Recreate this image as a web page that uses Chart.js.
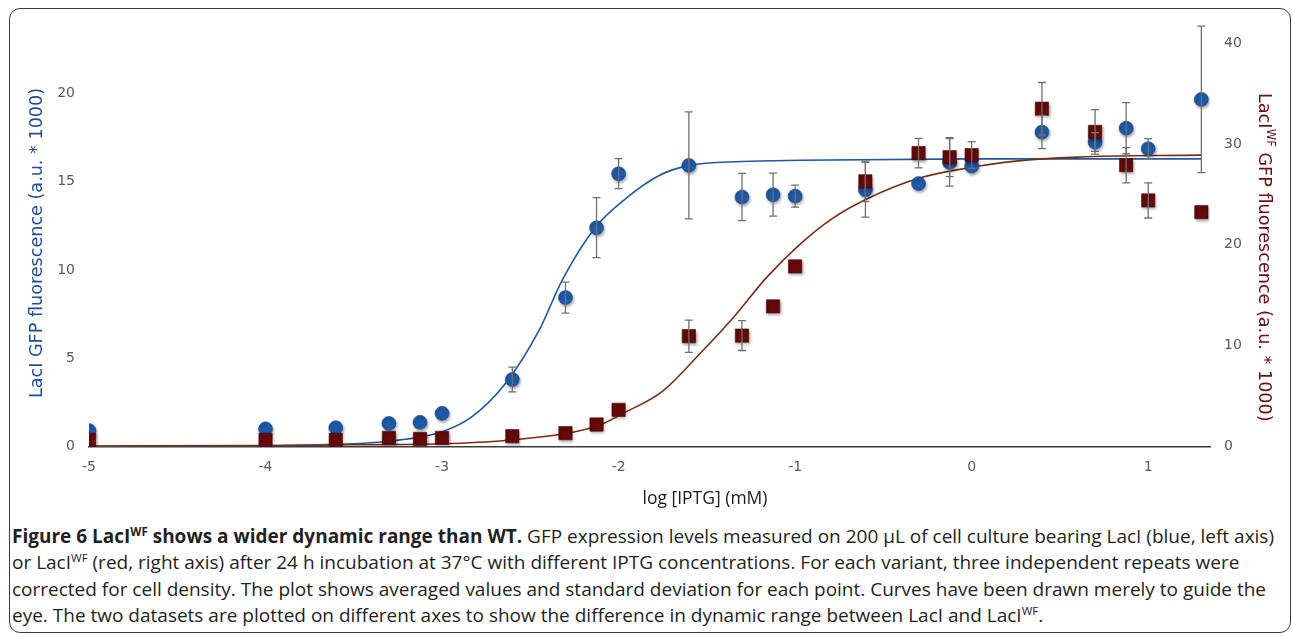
<!DOCTYPE html>
<html>
<head>
<meta charset="utf-8">
<script src="https://cdn.jsdelivr.net/npm/chart.js@4.4.1/dist/chart.umd.min.js"></script>
<style>
  html, body { margin: 0; padding: 0; background: #fff; }
  body { width: 1292px; height: 636px; position: relative; overflow: hidden; }
  .frame {
    position: absolute; left: 9px; top: 8px; width: 1282px; height: 625px;
    border: 1.5px solid #3a3a3a; border-radius: 11px; box-sizing: border-box;
  }
  #chartBox { position: absolute; left: 0; top: 0; width: 1292px; height: 510px; }
  .xtitle {
    position: absolute; left: 555px; top: 485px; width: 300px; text-align: center;
    font-family: "Open Sans", sans-serif; font-size: 17.5px; color: #1a1a1a;
  }
  .caption {
    position: absolute; left: 12px; top: 523px;
    font-family: "Open Sans", sans-serif; font-size: 19px; line-height: 26.4px;
    color: #231f20; white-space: nowrap;
  }
  .caption sup { font-size: 11.5px; vertical-align: 7px; line-height: 0; }
</style>
</head>
<body>
<div class="frame"></div>
<div id="chartBox"><canvas id="myChart" width="1292" height="510"></canvas></div>
<div class="xtitle">log [IPTG] (mM)</div>
<div class="caption">
  <div><b>Figure 6 LacI<sup>WF</sup> shows a wider dynamic range than WT.</b> GFP expression levels measured on 200 µL of cell culture bearing LacI (blue, left axis)</div>
  <div>or LacI<sup>WF</sup> (red, right axis) after 24 h incubation at 37°C with different IPTG concentrations. For each variant, three independent repeats were</div>
  <div>corrected for cell density. The plot shows averaged values and standard deviation for each point. Curves have been drawn merely to guide the</div>
  <div>eye. The two datasets are plotted on different axes to show the difference in dynamic range between LacI and LacI<sup>WF</sup>.</div>
</div>
<script>
// IPTG concentrations (mM), plotted as log10
const iptgMM = [0.00001, 0.0001, 0.00025, 0.0005, 0.00075, 0.001, 0.0025, 0.005, 0.0075, 0.01,
  0.025, 0.05, 0.075, 0.1, 0.25, 0.5, 0.75, 1, 2.5, 5, 7.5, 10, 20];

// LacI (left axis), mean and SD
const laciMean = [0.9, 1.0, 1.06, 1.31, 1.37, 1.88, 3.8, 8.44, 12.4, 15.46,
  15.93, 14.14, 14.27, 14.19, 14.55, 14.9, 16.1, 15.89, 17.82, 17.25, 18.04, 16.88, 19.67];
const laciSD = [0, 0, 0, 0, 0, 0, 0.7, 0.88, 1.7, 0.85,
  3.03, 1.34, 1.22, 0.62, 1.55, 0, 1.35, 0, 0.94, 0.53, 1.45, 0.57, 4.15];

// LacI WF (right axis), mean and SD
const laciWfMean = [0.65, 0.65, 0.65, 0.86, 0.76, 0.86, 1.02, 1.32, 2.18, 3.64,
  10.94, 11.0, 13.9, 17.86, 26.3, 29.1, 28.7, 28.9, 33.5, 31.2, 27.9, 24.4, 23.25];
const laciWfSD = [0, 0, 0, 0, 0, 0, 0, 0, 0, 0,
  1.6, 1.48, 0, 0, 2.0, 1.46, 1.93, 1.33, 2.6, 2.2, 1.75, 1.74, 0];

// guide curves
const laciFitX = [-5, -4, -3.6, -3.3, -3.0, -2.83, -2.64, -2.45, -2.32, -2.13, -1.96, -1.77, -1.6, -1.3, -0.97, 0, 1.3];
const laciFitY = [0, 0.03, 0.12, 0.3, 0.84, 1.69, 3.58, 6.59, 9.42, 12.44, 14.05, 15.36, 15.93, 16.15, 16.22, 16.3, 16.3];
const laciWfFitX = [-5, -4, -3.5, -3.0, -2.64, -2.26, -2.11, -1.98, -1.75, -1.54, -1.35, -1.16, -0.97, -0.79, -0.6, -0.3, -0.03, 0.25, 0.6, 1.3];
const laciWfFitY = [0.05, 0.1, 0.17, 0.27, 0.6, 1.42, 2.1, 3.24, 5.5, 9.2, 12.8, 16.8, 20.1, 22.6, 24.5, 26.6, 27.6, 28.3, 28.7, 28.9];

const xTicks = [-5, -4, -3, -2, -1, 0, 1];
const leftTicks = [0, 5, 10, 15, 20];
const rightTicks = [0, 10, 20, 30, 40];

const logX = iptgMM.map(c => Math.log10(c));
const toPoints = (xs, ys) => xs.map((x, i) => ({ x: x, y: ys[i] }));

const tickFont = { family: "'DejaVu Sans'", size: 14 };
const tickColor = "#5a5a5a";

// grey error bars, drawn over the markers
const errorBars = {
  id: "errorBars",
  afterDatasetsDraw(chart) {
    const ctx = chart.ctx;
    const x = chart.scales.x;
    ctx.save();
    ctx.strokeStyle = "#707070";
    ctx.lineWidth = 1.3;
    chart.data.datasets.forEach((ds) => {
      if (!ds.errors) return;
      const y = chart.scales[ds.yAxisID];
      ds.data.forEach((p, i) => {
        const e = ds.errors[i];
        if (!e) return;
        const px = x.getPixelForValue(p.x);
        const top = y.getPixelForValue(p.y + e);
        const bot = y.getPixelForValue(p.y - e);
        ctx.beginPath();
        ctx.moveTo(px, top); ctx.lineTo(px, bot);
        ctx.moveTo(px - 4, top); ctx.lineTo(px + 4, top);
        ctx.moveTo(px - 4, bot); ctx.lineTo(px + 4, bot);
        ctx.stroke();
      });
    });
    ctx.restore();
  }
};

// soft drop shadow under the markers
const markerShadow = {
  id: "markerShadow",
  beforeDatasetDraw(chart, args) {
    if (!args.meta._dataset.shadow) return;
    const ctx = chart.ctx;
    ctx.save();
    ctx.shadowColor = "rgba(0,0,0,0.35)";
    ctx.shadowBlur = 3;
    ctx.shadowOffsetX = 1;
    ctx.shadowOffsetY = 2;
  },
  afterDatasetDraw(chart, args) {
    if (!args.meta._dataset.shadow) return;
    chart.ctx.restore();
  }
};

// rotated axis titles (right one needs a superscript)
const axisTitles = {
  id: "axisTitles",
  afterDraw(chart) {
    const ctx = chart.ctx;
    const base = "17.6px 'DejaVu Sans'";
    const small = "11.5px 'DejaVu Sans'";
    ctx.save();
    ctx.font = base;
    ctx.fillStyle = "#1d4f95";
    ctx.textAlign = "center";
    ctx.textBaseline = "middle";
    ctx.translate(37, 243);
    ctx.rotate(-Math.PI / 2);
    ctx.fillText("LacI GFP fluorescence (a.u. * 1000)", 0, 0);
    ctx.restore();

    const a = "LacI", sup = "WF", b = " GFP fluorescence (a.u. * 1000)";
    ctx.save();
    ctx.fillStyle = "#6a0f0f";
    ctx.textBaseline = "middle";
    ctx.textAlign = "left";
    ctx.font = base;
    const wa = ctx.measureText(a).width, wb = ctx.measureText(b).width;
    ctx.font = small;
    const ws = ctx.measureText(sup).width;
    ctx.translate(1264, 257);
    ctx.rotate(Math.PI / 2);
    let start = -(wa + ws + wb) / 2;
    ctx.font = base;
    ctx.fillText(a, start, 0);
    ctx.font = small;
    ctx.fillText(sup, start + wa + 0.5, -6);
    ctx.font = base;
    ctx.fillText(b, start + wa + ws + 0.5, 0);
    ctx.restore();
  }
};

const ctx = document.getElementById("myChart").getContext("2d");
const myChart = new Chart(ctx, {
  type: "scatter",
  data: {
    datasets: [
      {
        label: "LacI fit",
        data: toPoints(laciFitX, laciFitY),
        yAxisID: "y",
        showLine: true,
        borderColor: "#1f57a4",
        borderWidth: 1.6,
        pointRadius: 0,
        cubicInterpolationMode: "monotone",
        order: 4
      },
      {
        label: "LacI WF fit",
        data: toPoints(laciWfFitX, laciWfFitY),
        yAxisID: "y1",
        showLine: true,
        borderColor: "#7a2c12",
        borderWidth: 1.6,
        pointRadius: 0,
        cubicInterpolationMode: "monotone",
        order: 3
      },
      {
        label: "LacI",
        data: toPoints(logX, laciMean),
        errors: laciSD,
        shadow: true,
        yAxisID: "y",
        pointStyle: "circle",
        pointRadius: 7,
        backgroundColor: "#1d59a8",
        borderColor: "#16498c",
        borderWidth: 0.6,
        order: 2
      },
      {
        label: "LacI WF",
        data: toPoints(logX, laciWfMean),
        errors: laciWfSD,
        shadow: true,
        yAxisID: "y1",
        pointStyle: "rect",
        pointRadius: 9.4,
        backgroundColor: "#650909",
        borderColor: "#4a0505",
        borderWidth: 0.6,
        order: 1
      }
    ]
  },
  options: {
    responsive: false,
    animation: false,
    layout: { padding: { top: 23, left: 0, right: 0, bottom: 0 } },
    plugins: {
      legend: { display: false },
      tooltip: { enabled: false }
    },
    scales: {
      x: {
        type: "linear",
        min: -5,
        max: 1.35,
        afterBuildTicks: (s) => { s.ticks = xTicks.map(v => ({ value: v })); },
        afterFit: (s) => { s.height = 63.5; },
        ticks: { font: tickFont, color: tickColor, padding: 12 },
        grid: { display: false, drawTicks: false },
        border: { display: true, color: "#3c3c3c", width: 1.5 }
      },
      y: {
        position: "left",
        min: 0,
        max: 24,
        afterBuildTicks: (s) => { s.ticks = leftTicks.map(v => ({ value: v })); },
        afterFit: (s) => { s.width = 89; },
        ticks: { font: tickFont, color: tickColor, padding: 14 },
        grid: { display: false, drawTicks: false },
        border: { display: false }
      },
      y1: {
        position: "right",
        min: 0,
        max: 42,
        afterBuildTicks: (s) => { s.ticks = rightTicks.map(v => ({ value: v })); },
        afterFit: (s) => { s.width = 82; },
        ticks: { font: tickFont, color: tickColor, padding: 14 },
        grid: { display: false, drawTicks: false },
        border: { display: false }
      }
    }
  },
  plugins: [markerShadow, errorBars, axisTitles]
});
</script>
</body>
</html>
